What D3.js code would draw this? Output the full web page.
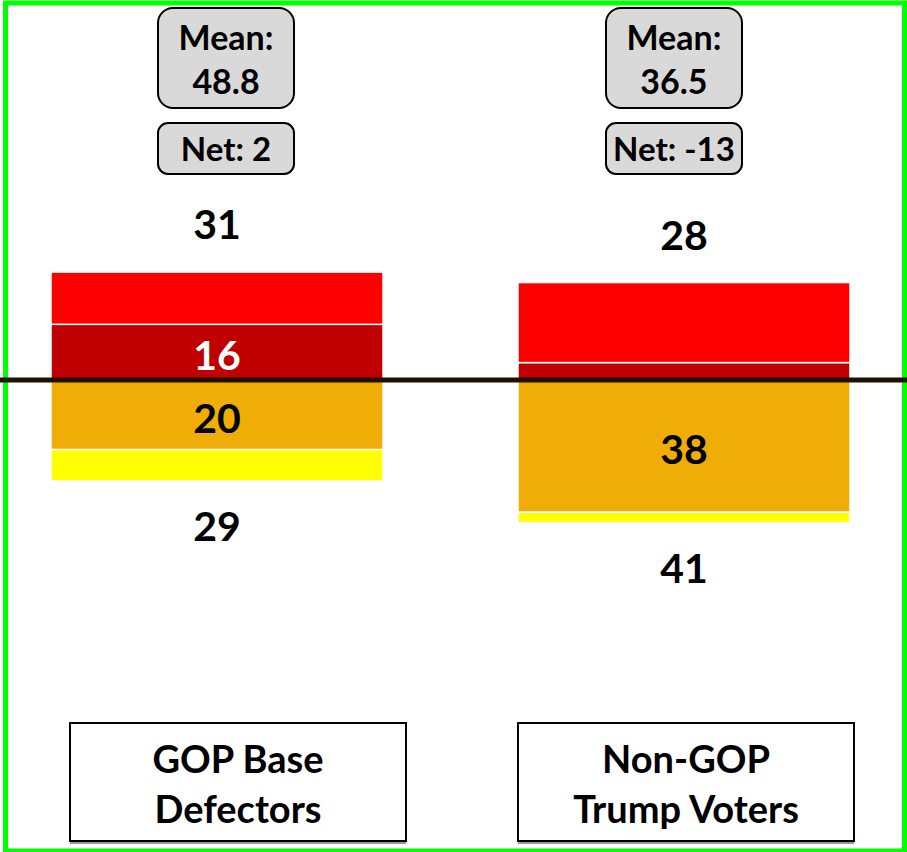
<!DOCTYPE html>
<html>
<head>
<meta charset="utf-8">
<script src="https://cdn.jsdelivr.net/npm/d3@7"></script>
<style>
  body { margin: 0; background: #fff; }
  svg text { font-family: Lato, "Open Sans", sans-serif; font-weight: bold; }
</style>
</head>
<body>
<svg id="chart" width="907" height="852"></svg>
<script>
// data
const groups = ["GOP Base Defectors", "Non-GOP Trump Voters"];
const groupLines = [["GOP Base", "Defectors"], ["Non-GOP", "Trump Voters"]];
const brightRed = [15, 23];
const darkRed = [16, 5];
const orange = [20, 38];
const yellow = [9, 3];
const topTotals = [31, 28];
const bottomTotals = [29, 41];
const means = ["48.8", "36.5"];
const nets = ["2", "-13"];

const colors = { brightRed: "#ff0000", darkRed: "#c00000", orange: "#f0ad08", yellow: "#ffff00" };

const svg = d3.select("#chart");

// outer green frame
svg.append("rect")
    .attr("x", 5.5).attr("y", 3)
    .attr("width", 899).attr("height", 848)
    .attr("fill", "none").attr("stroke", "#00ff00").attr("stroke-width", 5);

const x = d3.scaleBand().domain(groups).range([51, 850]).paddingInner(0.289).paddingOuter(0);
const y = d3.scaleLinear().domain([-50, 50]).range([554, 206]);

// stacked segments: positives grow up from zero, negatives grow down
let segs = [];
groups.forEach((g, i) => {
    segs.push({g, key: "darkRed", y0: 0, y1: darkRed[i], v: darkRed[i], labelColor: "#fff"});
    segs.push({g, key: "brightRed", y0: darkRed[i], y1: darkRed[i] + brightRed[i], v: brightRed[i]});
    segs.push({g, key: "orange", y0: -orange[i], y1: 0, v: orange[i], labelColor: "#000"});
    segs.push({g, key: "yellow", y0: -orange[i] - yellow[i], y1: -orange[i], v: yellow[i]});
});

svg.selectAll("rect.seg").data(segs).enter().append("rect")
    .attr("class", "seg")
    .attr("x", d => x(d.g))
    .attr("width", x.bandwidth())
    .attr("y", d => y(d.y1))
    .attr("height", d => y(d.y0) - y(d.y1))
    .attr("fill", d => colors[d.key])
    .attr("stroke", "#fff").attr("stroke-width", 1.5);

svg.selectAll("text.seglab").data(segs.filter(d => d.labelColor && d.v >= 10)).enter().append("text")
    .attr("class", "seglab")
    .attr("x", d => x(d.g) + x.bandwidth() / 2)
    .attr("y", d => (y(d.y0) + y(d.y1)) / 2 + 18)
    .attr("text-anchor", "middle")
    .attr("font-size", 41)
    .attr("fill", d => d.labelColor)
    .text(d => d.v);

// zero line
svg.append("line")
    .attr("x1", 0).attr("x2", 907)
    .attr("y1", y(0)).attr("y2", y(0))
    .attr("stroke", "#201000").attr("stroke-width", 5);

// totals above / below
svg.selectAll("text.top").data(groups).enter().append("text")
    .attr("x", d => x(d) + x.bandwidth() / 2)
    .attr("y", (d, i) => y(topTotals[i]) - 33)
    .attr("text-anchor", "middle").attr("font-size", 41)
    .text((d, i) => topTotals[i]);

svg.selectAll("text.bot").data(groups).enter().append("text")
    .attr("x", d => x(d) + x.bandwidth() / 2)
    .attr("y", (d, i) => y(-bottomTotals[i]) + 60)
    .attr("text-anchor", "middle").attr("font-size", 41)
    .text((d, i) => bottomTotals[i]);

// mean / net boxes
const boxShift = [9, -10];
groups.forEach((g, i) => {
    const cx = x(g) + x.bandwidth() / 2 + boxShift[i];
    svg.append("rect")
        .attr("x", cx - 68).attr("y", 8).attr("width", 136).attr("height", 100)
        .attr("rx", 15).attr("fill", "#d9d9d9").attr("stroke", "#000").attr("stroke-width", 2);
    svg.append("text").attr("x", cx).attr("y", 50).attr("text-anchor", "middle")
        .attr("font-size", 34).text("Mean:");
    svg.append("text").attr("x", cx).attr("y", 94).attr("text-anchor", "middle")
        .attr("font-size", 34).text(means[i]);
    svg.append("rect")
        .attr("x", cx - 68).attr("y", 123).attr("width", 136).attr("height", 51)
        .attr("rx", 10).attr("fill", "#d9d9d9").attr("stroke", "#000").attr("stroke-width", 2);
    svg.append("text").attr("x", cx).attr("y", 161).attr("text-anchor", "middle")
        .attr("font-size", 33).text("Net: " + nets[i]);
});

// category label boxes
const labShift = [21, 2];
groups.forEach((g, i) => {
    const cx = x(g) + x.bandwidth() / 2 + labShift[i];
    svg.append("rect")
        .attr("x", cx - 168).attr("y", 725).attr("width", 336).attr("height", 119)
        .attr("fill", "#999");
    svg.append("rect")
        .attr("x", cx - 168).attr("y", 723).attr("width", 336).attr("height", 118)
        .attr("fill", "#fff").attr("stroke", "#000").attr("stroke-width", 2);
    groupLines[i].forEach((t, j) => {
        svg.append("text").attr("x", cx).attr("y", 773 + j * 50)
            .attr("text-anchor", "middle").attr("font-size", 38).text(t);
    });
});
</script>
</body>
</html>
